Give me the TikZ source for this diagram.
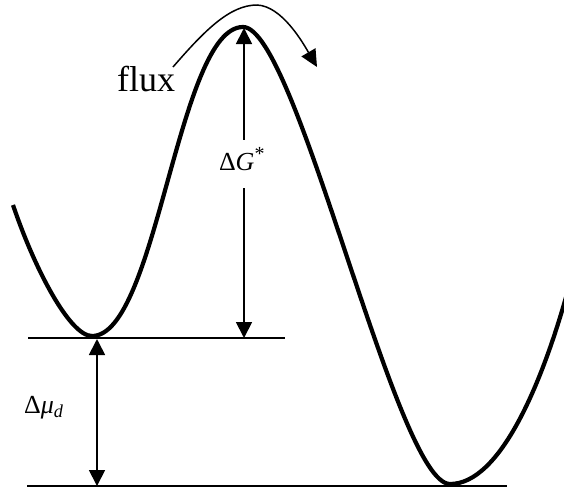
\documentclass[tikz,border=0pt]{standalone}
\usepackage{fontspec}
\setmainfont{Liberation Serif}
\usetikzlibrary{arrows.meta}
\begin{document}
\begin{tikzpicture}[x=1pt,y=-1pt,
  energy/.style={line width=4.2pt},
  level/.style={line width=1.6pt},
  dimarrow/.style={line width=1.8pt,-{Triangle[width=16pt,length=16pt]}},
  fluxarrow/.style={line width=1.5pt,-{Triangle[width=16pt,length=17pt]}},
  biglabel/.style={font=\fontsize{36}{40}\selectfont,inner sep=0pt},
  smalllabel/.style={font=\fontsize{26}{30}\selectfont,inner sep=0pt}]
\useasboundingbox (0,0) rectangle (564,493);
% energy landscape
\draw[energy] (13,205) .. controls (35,270) and (70,336) .. (92,336)
  .. controls (157,336) and (178,27) .. (243,27)
  .. controls (297,27) and (396,484) .. (450,484)
  .. controls (500,484) and (542,384) .. (568,290);
% levels
\coordinate (u1) at (28,338);
\coordinate (u2) at (285,338);
\coordinate (l1) at (27,486);
\coordinate (l2) at (507,486);
\draw[level] (u1) -- (u2);
\draw[level] (l1) -- (l2);
% Delta G*
\coordinate (gtop) at (244,28);
\coordinate (gbot) at (244,338);
\node[smalllabel,anchor=base,inner ysep=8pt,text depth=10pt] (dg) at (242,170) {Δ\textit{G}\textsuperscript{\fontsize{20}{22}\selectfont *}};
\draw[dimarrow] (dg.north -| gtop) -- (gtop);
\draw[dimarrow] (dg.south -| gbot) -- (gbot);
% Delta mu_d
\coordinate (mtop) at (97,339);
\coordinate (mbot) at (97,486);
\draw[dimarrow,{Triangle[width=16pt,length=16pt]}-{Triangle[width=16pt,length=16pt]}] (mtop) -- (mbot);
\node[smalllabel,anchor=base west] (dmu) at (24,413) {Δ\textit{μ}\textsubscript{\textit{d}}};
% flux
\node[biglabel,anchor=base west] (flux) at (117,91) {flux};
\coordinate (fs) at (173,67);
\coordinate (ft) at (317,67);
\draw[fluxarrow] (fs) .. controls (205,30) and (230,5) .. (257,5)
  .. controls (282,6) and (303,43) .. (ft);
\end{tikzpicture}
\end{document}
